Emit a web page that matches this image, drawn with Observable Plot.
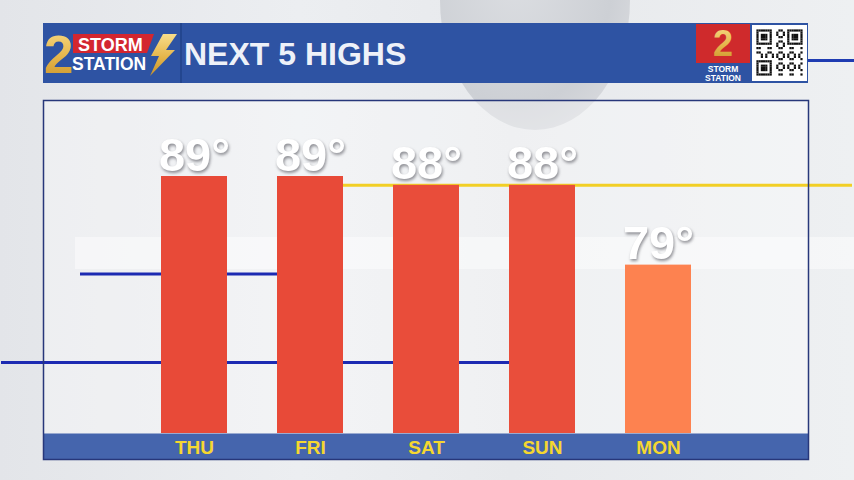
<!DOCTYPE html>
<html>
<head>
<meta charset="utf-8">
<script src="https://cdn.jsdelivr.net/npm/d3@7"></script>
<script src="https://cdn.jsdelivr.net/npm/@observablehq/plot@0.6"></script>
<style>
  html, body { margin: 0; padding: 0; }
  body {
    width: 854px; height: 480px; overflow: hidden; position: relative;
    font-family: "Liberation Sans", Arial, sans-serif;
    background: linear-gradient(90deg, #e3e5e9 0%, #eceef1 35%, #e7e9ec 60%, #eef0f2 100%);
  }
  #wm1 { position: absolute; left: 440px; top: -130px; width: 190px; height: 260px; border-radius: 50%;
    background: radial-gradient(ellipse at 40% 40%, #dcdee2 0%, #cdd0d5 60%, #d6d8dc 78%, rgba(220,222,226,0) 80%); }
  #wm2 { position: absolute; left: 75px; top: 237px; width: 779px; height: 32px; background: rgba(255,255,255,0.45); }
  #chart { position: absolute; left: 0; top: 0; }
  g[aria-label="text"] text { filter: drop-shadow(1px 2px 1.5px rgba(60,60,70,0.55)); }
  #header { position: absolute; left: 43px; top: 23px; width: 765px; height: 60px; background: #2e53a3; }
  #divider { position: absolute; left: 137px; top: 0; width: 2px; height: 60px; background: #23468f; }
  #title { position: absolute; left: 141px; top: 0; height: 60px; line-height: 62px; color: #eef1f8;
    font-size: 32px; font-weight: bold; }
  #logoL { position: absolute; left: 0; top: 0; }
  #logoR { position: absolute; left: 653px; top: 1px; }
  #qr { position: absolute; left: 709px; top: 2px; width: 55px; height: 56px; background: #fff; }
  #sideLine { position: absolute; left: 808px; top: 59px; width: 46px; height: 3px; background: #1f3cb2; }
</style>
</head>
<body>
<div id="wm1"></div>
<div id="wm2"></div>
<div id="chart"></div>
<div id="sideLine"></div>
<div id="header">
  <svg id="logoL" width="137" height="60" viewBox="0 0 137 60">
    <defs>
      <linearGradient id="gold" x1="0" y1="0" x2="0" y2="1">
        <stop offset="0" stop-color="#f8dd8a"/>
        <stop offset="0.55" stop-color="#e5b54a"/>
        <stop offset="1" stop-color="#c8922a"/>
      </linearGradient>
    </defs>
    <polygon points="30,11 111,11 104,30 30,30" fill="#d3262f"/>
    <text x="1" y="50" font-size="53" font-weight="bold" fill="url(#gold)" font-family="Liberation Sans, Arial">2</text>
    <text x="35" y="28" font-size="18" font-weight="bold" fill="#ffffff" font-family="Liberation Sans, Arial">STORM</text>
    <text x="29" y="47" font-size="17.5" font-weight="bold" fill="#ffffff" font-family="Liberation Sans, Arial">STATION</text>
    <polygon points="120,11 134,11 123,27 132,27 107,53 116,33 108,33" fill="url(#gold)"/>
  </svg>
  <div id="divider"></div>
  <div id="title">NEXT 5 HIGHS</div>
  <svg id="logoR" width="55" height="59" viewBox="0 0 55 59">
    <rect x="0" y="0" width="55" height="59" fill="#2e53a3"/>
    <rect x="0" y="0" width="54" height="39" fill="#cf2a2c"/>
    <text x="27" y="32" text-anchor="middle" font-size="36" font-weight="bold" fill="url(#gold)" font-family="Liberation Sans, Arial">2</text>
    <text x="27" y="47.5" text-anchor="middle" font-size="8.5" font-weight="bold" fill="#fff" font-family="Liberation Sans, Arial">STORM</text>
    <text x="27" y="57" text-anchor="middle" font-size="8.5" font-weight="bold" fill="#fff" font-family="Liberation Sans, Arial">STATION</text>
  </svg>
  <svg id="qr" width="55" height="56" viewBox="0 0 55 56"></svg>
</div>
<script>
// ---- data ----
const days = ["THU", "FRI", "SAT", "SUN", "MON"];
const highs = [89, 89, 88, 88, 79];
const barColors = ["#e84a38", "#e84a38", "#e94d3a", "#e94e3b", "#fd8250"];
const baseline = 60;
const topValue = 89;
const yellowLine = [{value: 88, from: "FRI", to: "MON"}];
const blueLineUpper = [{value: 78, from: "THU", to: "FRI"}];
const blueLineLower = [{value: 68, from: "THU", to: "SUN"}];

const table = days.map((d, i) => ({day: d, high: highs[i], color: barColors[i]}));

const chart = Plot.plot({
  width: 854,
  height: 480,
  marginLeft: 43,
  marginRight: 46,
  marginTop: 100,
  marginBottom: 21,
  style: {background: "transparent", fontFamily: "Liberation Sans, Arial, sans-serif", overflow: "visible"},
  x: {domain: days, paddingInner: 0.435, paddingOuter: 1, label: null},
  y: {domain: [baseline, topValue], range: [433, 176], axis: null},
  marks: [
    Plot.frame({fill: "#ffffff", fillOpacity: 0.35}),
    Plot.ruleY(yellowLine, {y: "value", x1: "from", x2: "to", stroke: "#f2cf25", strokeWidth: 3, insetRight: -161}),
    Plot.ruleY(blueLineUpper, {y: "value", x1: "from", x2: "to", stroke: "#1c2ab2", strokeWidth: 3, insetLeft: -81}),
    Plot.ruleY(blueLineLower, {y: "value", x1: "from", x2: "to", stroke: "#1c2ab2", strokeWidth: 3, insetLeft: -160}),
    Plot.barY(table, {x: "day", y1: baseline, y2: "high", fill: "color"}),
    Plot.ruleY([baseline], {stroke: "#4565ad", strokeWidth: 26, dy: 13}),
    Plot.axisX({tickSize: 0, fontSize: 19, fontWeight: "bold", fill: "#f5d730", dy: -28, label: null}),
    Plot.text(table, {x: "day", y: "high", text: d => `${d.high}°`, dy: -21, fontSize: 47, fontWeight: "bold", fill: "#ffffff"}),
    Plot.frame({stroke: "#27377a", strokeWidth: 1.5})
  ]
});
document.getElementById("chart").appendChild(chart);

// decorative QR-like pattern
(function () {
  const svg = d3.select("#qr");
  const n = 21, s = 2.2, off = 4.4;
  const finder = (r, c) => {
    const inBox = (r0, c0) => r >= r0 && r < r0 + 7 && c >= c0 && c < c0 + 7;
    for (const [r0, c0] of [[0, 0], [0, 14], [14, 0]]) {
      if (inBox(r0, c0)) {
        const rr = r - r0, cc = c - c0;
        return rr === 0 || rr === 6 || cc === 0 || cc === 6 || (rr >= 2 && rr <= 4 && cc >= 2 && cc <= 4) ? 1 : 0;
      }
      if (r >= r0 - 1 && r <= r0 + 7 && c >= c0 - 1 && c <= c0 + 7) return 0;
    }
    return -1;
  };
  for (let r = 0; r < n; r++) for (let c = 0; c < n; c++) {
    let v = finder(r, c);
    if (v === -1) v = ((r * 7 + c * 11 + r * c) % 5 < 2) ? 1 : 0;
    if (v) svg.append("rect").attr("x", off + c * s).attr("y", off + r * s).attr("width", s).attr("height", s).attr("fill", "#111");
  }
})();
</script>
</body>
</html>
